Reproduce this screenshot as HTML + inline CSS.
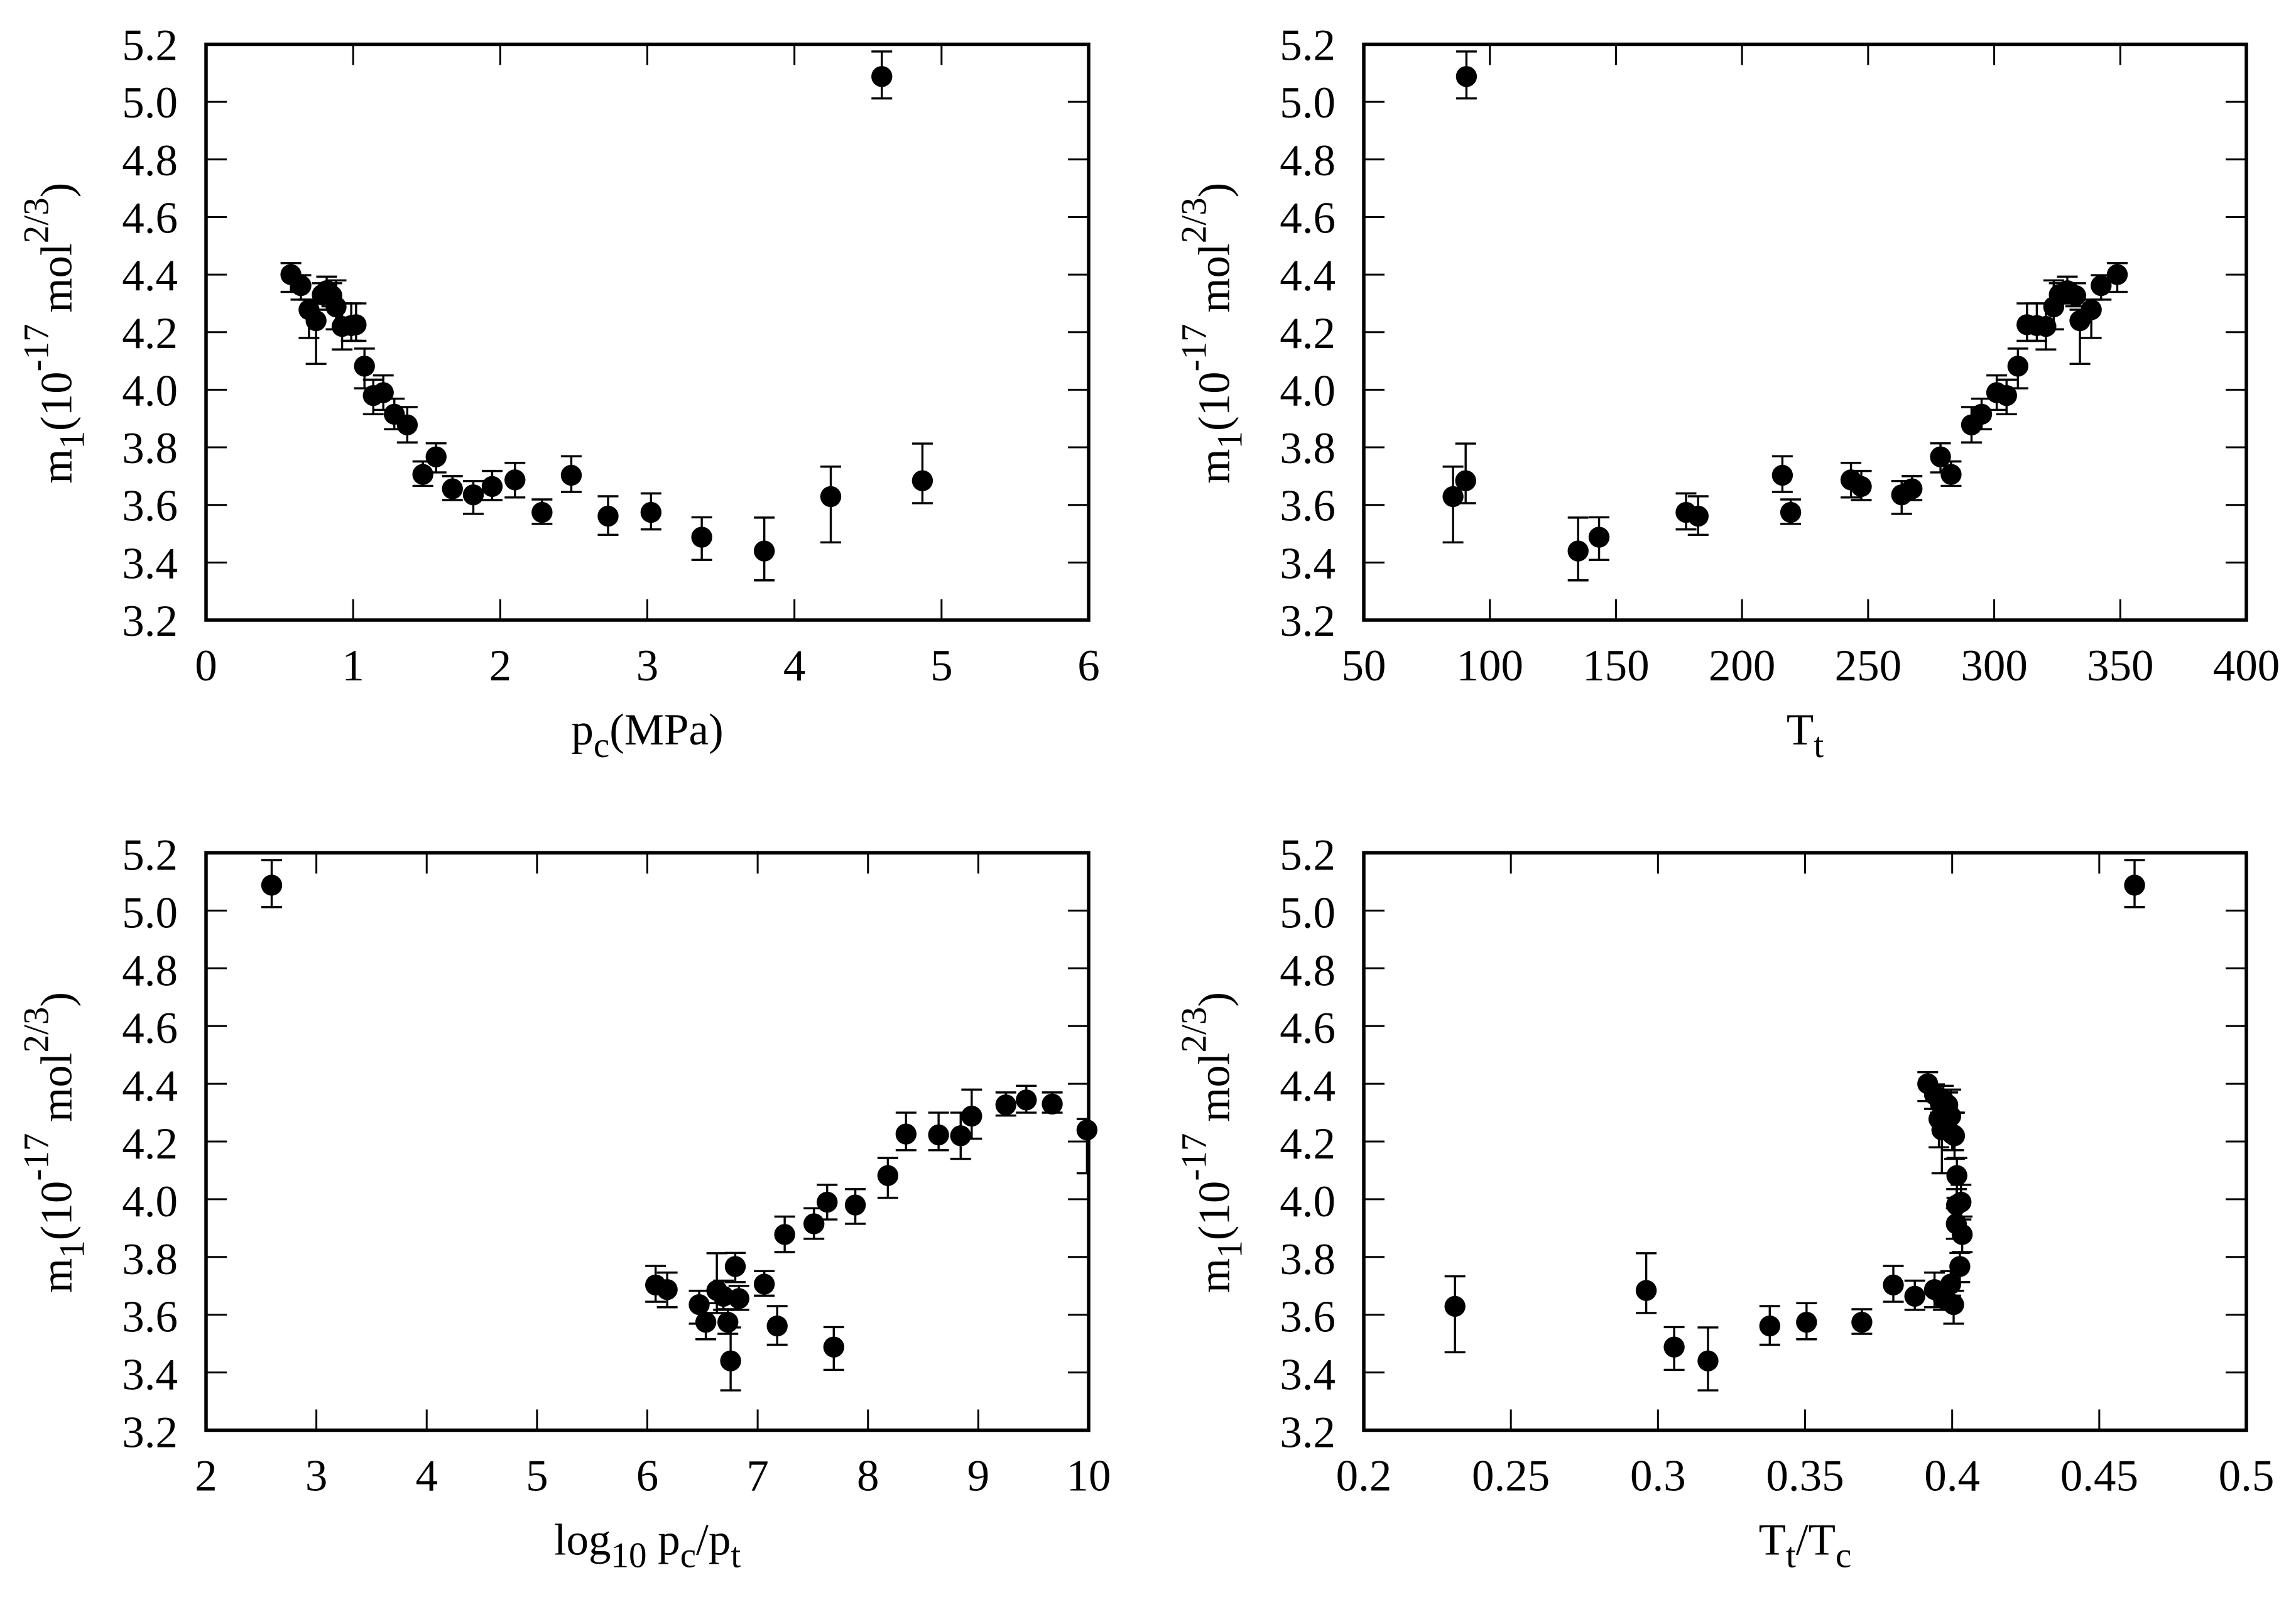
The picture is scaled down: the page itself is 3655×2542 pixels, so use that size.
<!DOCTYPE html>
<html lang="en">
<head>
<meta charset="utf-8">
<title>m1 versus critical and triple-point properties</title>
<style>
html,body{margin:0;padding:0;background:#fff;}
body{width:3655px;height:2542px;overflow:hidden;}
svg{display:block;}
text{font-family:"Liberation Serif",serif;font-size:71px;fill:#000;}
</style>
</head>
<body>
<svg id="figure" xmlns="http://www.w3.org/2000/svg" width="3655" height="2542" viewBox="0 0 3655 2542">
<rect x="0" y="0" width="3655" height="2542" fill="#fff"/>
</svg>
<script>
const mValues = [4.40,4.362,4.278,4.24,4.327,4.344,4.33,4.288,4.22,4.223,4.226,4.082,3.98,3.99,3.915,3.878,3.706,3.767,3.656,3.635,3.664,3.687,3.574,3.703,3.561,3.574,3.488,3.44,3.629,5.088,3.684];
const mHigh = [4.44,4.398,4.313,4.278,4.37,4.393,4.37,4.38,4.30,4.30,4.30,4.143,4.035,4.05,3.969,3.94,3.751,3.814,3.70,3.683,3.718,3.746,3.619,3.769,3.63,3.64,3.557,3.556,3.733,5.175,3.813];
const mLow = [4.34,4.313,4.18,4.09,4.29,4.30,4.30,4.21,4.14,4.17,4.17,4.005,3.915,3.93,3.863,3.817,3.666,3.713,3.617,3.569,3.617,3.626,3.534,3.645,3.496,3.515,3.409,3.338,3.47,5.012,3.606];
const criticalPressure = [0.577,0.645,0.70,0.748,0.855,0.82,0.79,0.884,0.925,0.987,1.02,1.077,1.137,1.205,1.28,1.368,1.474,1.564,1.675,1.817,1.945,2.10,2.284,2.483,2.733,3.025,3.37,3.795,4.247,4.594,4.87];
const tripleTemperature = [348.8,342.4,338.5,334,332.3,329,325.8,323.6,320.5,316.9,313,309.4,304.9,301,295,291,282.9,278.7,267.4,263.3,247.3,243.2,219.3,216,182.6,177.8,143.3,135,85.4,90.7,90.4];
const logPressureRatio = [null,null,null,9.985,9.25,9.435,9.67,8.94,8.84,8.64,8.345,8.18,7.885,7.63,7.51,7.245,7.06,6.797,6.83,6.47,6.69,6.18,6.73,6.075,7.177,6.53,7.69,6.755,null,2.595,6.63];
const temperatureRatio = [0.3917,0.394,0.3955,0.3965,0.3985,0.397,0.396,0.3995,0.4008,0.4005,0.400,0.4016,0.4015,0.403,0.4014,0.4034,0.3995,0.4026,0.397,0.4005,0.3873,0.394,0.3693,0.380,0.338,0.3505,0.3055,0.317,0.231,0.462,0.296];
const yTickLabels = ["3.2","3.4","3.6","3.8","4.0","4.2","4.4","4.6","4.8","5.0","5.2"];
const pressureTickLabels = ["0","1","2","3","4","5","6"];
const temperatureTickLabels = ["50","100","150","200","250","300","350","400"];
const logRatioTickLabels = ["2","3","4","5","6","7","8","9","10"];
const ratioTickLabels = ["0.2","0.25","0.3","0.35","0.4","0.45","0.5"];

const SVG_NS = "http://www.w3.org/2000/svg";
const figure = document.getElementById("figure");
const Y_MIN = 3.2;
const Y_MAX = 5.2;
const Y_AXIS_LABEL = 'm<tspan dy="20" font-size="57">1</tspan><tspan dy="-20">(10</tspan><tspan dy="-37" font-size="57">-17</tspan><tspan dy="37"> mol</tspan><tspan dy="-37" font-size="57">2/3</tspan><tspan dy="37">)</tspan>';

function make(parent, tag, attrs) {
  const el = document.createElementNS(SVG_NS, tag);
  for (const k in attrs) el.setAttribute(k, attrs[k]);
  parent.appendChild(el);
  return el;
}

function drawPanel(key, xValues, xTicks, frameLeft, frameRight, frameTop, frameBottom, yLabelShift, xLabelMarkup) {
  const xMin = parseFloat(xTicks[0]);
  const xMax = parseFloat(xTicks[xTicks.length - 1]);
  const xScale = v => frameLeft + (v - xMin) / (xMax - xMin) * (frameRight - frameLeft);
  const yScale = v => frameBottom - (v - Y_MIN) / (Y_MAX - Y_MIN) * (frameBottom - frameTop);

  const g = make(figure, "g", {});
  
  

  const clip = make(g, "clipPath", {id: key + "-clip"});
  make(clip, "rect", {x: frameLeft, y: frameTop, width: frameRight - frameLeft, height: frameBottom - frameTop});

  const tickLength = 33;
  const yAxis = make(g, "g", {stroke: "#000", "stroke-width": 3});
  
  
  yTickLabels.forEach(label => {
    const v = parseFloat(label);
    const y = yScale(v);
    if (v > Y_MIN && v < Y_MAX) {
      make(yAxis, "line", {x1: frameLeft, x2: frameLeft + tickLength, y1: y, y2: y});
      make(yAxis, "line", {x1: frameRight, x2: frameRight - tickLength, y1: y, y2: y});
    }
    const t = make(g, "text", {x: frameLeft - 45, y: y + yLabelShift, "text-anchor": "end"});
    
    
    t.textContent = label;
  });

  const xAxis = make(g, "g", {stroke: "#000", "stroke-width": 3});
  
  
  xTicks.forEach((label, i) => {
    const x = xScale(parseFloat(label));
    if (i > 0 && i < xTicks.length - 1) {
      make(xAxis, "line", {x1: x, x2: x, y1: frameBottom, y2: frameBottom - tickLength});
      make(xAxis, "line", {x1: x, x2: x, y1: frameTop, y2: frameTop + tickLength});
    }
    const t = make(g, "text", {x: x, y: frameBottom + 96, "text-anchor": "middle"});
    
    
    t.textContent = label;
  });

  const capHalf = 16.5;
  mValues.forEach((m, i) => {
    const xv = xValues[i];
    if (xv === null) return;
    const cx = xScale(xv);
    const bar = make(g, "g", {stroke: "#000", "stroke-width": 3.4, "clip-path": "url(#" + key + "-clip)"});
    
    
    make(bar, "line", {x1: cx, x2: cx, y1: yScale(mLow[i]), y2: yScale(mHigh[i])});
    make(bar, "line", {x1: cx - capHalf, x2: cx + capHalf, y1: yScale(mLow[i]), y2: yScale(mLow[i])});
    make(bar, "line", {x1: cx - capHalf, x2: cx + capHalf, y1: yScale(mHigh[i]), y2: yScale(mHigh[i])});
  });

  const frame = make(g, "rect", {x: frameLeft, y: frameTop, width: frameRight - frameLeft, height: frameBottom - frameTop, fill: "none", stroke: "#000", "stroke-width": 5.5});
  
  

  mValues.forEach((m, i) => {
    const xv = xValues[i];
    if (xv === null) return;
    const dot = make(g, "circle", {cx: xScale(xv), cy: yScale(m), r: 16.7, fill: "#000"});
    
    
  });

  const yCenter = (frameTop + frameBottom) / 2 + 1.5;
  const yBase = frameLeft - 214.5;
  const yLabel = make(g, "text", {transform: "translate(" + yBase + " " + yCenter + ") rotate(-90)", "text-anchor": "middle"});
  
  
  yLabel.innerHTML = Y_AXIS_LABEL;

  const xLabel = make(g, "text", {x: (frameLeft + frameRight) / 2, y: frameBottom + 198, "text-anchor": "middle"});
  
  
  xLabel.innerHTML = xLabelMarkup;
}

drawPanel("pressure", criticalPressure, pressureTickLabels, 328, 1733, 70.5, 987, 25,
  'p<tspan dy="20" font-size="57">c</tspan><tspan dy="-20">(MPa)</tspan>');
drawPanel("temperature", tripleTemperature, temperatureTickLabels, 2171, 3576, 70.5, 987, 25,
  'T<tspan dy="20" font-size="57">t</tspan>');
drawPanel("log-ratio", logPressureRatio, logRatioTickLabels, 328, 1733, 1357.5, 2276.5, 27,
  'log<tspan dy="20" font-size="57">10</tspan><tspan dy="-20"> p</tspan><tspan dy="20" font-size="57">c</tspan><tspan dy="-20">/p</tspan><tspan dy="20" font-size="57">t</tspan>');
drawPanel("ratio", temperatureRatio, ratioTickLabels, 2171, 3576, 1357.5, 2276.5, 27,
  'T<tspan dy="20" font-size="57">t</tspan><tspan dy="-20">/T</tspan><tspan dy="20" font-size="57">c</tspan>');
</script>
</body>
</html>
